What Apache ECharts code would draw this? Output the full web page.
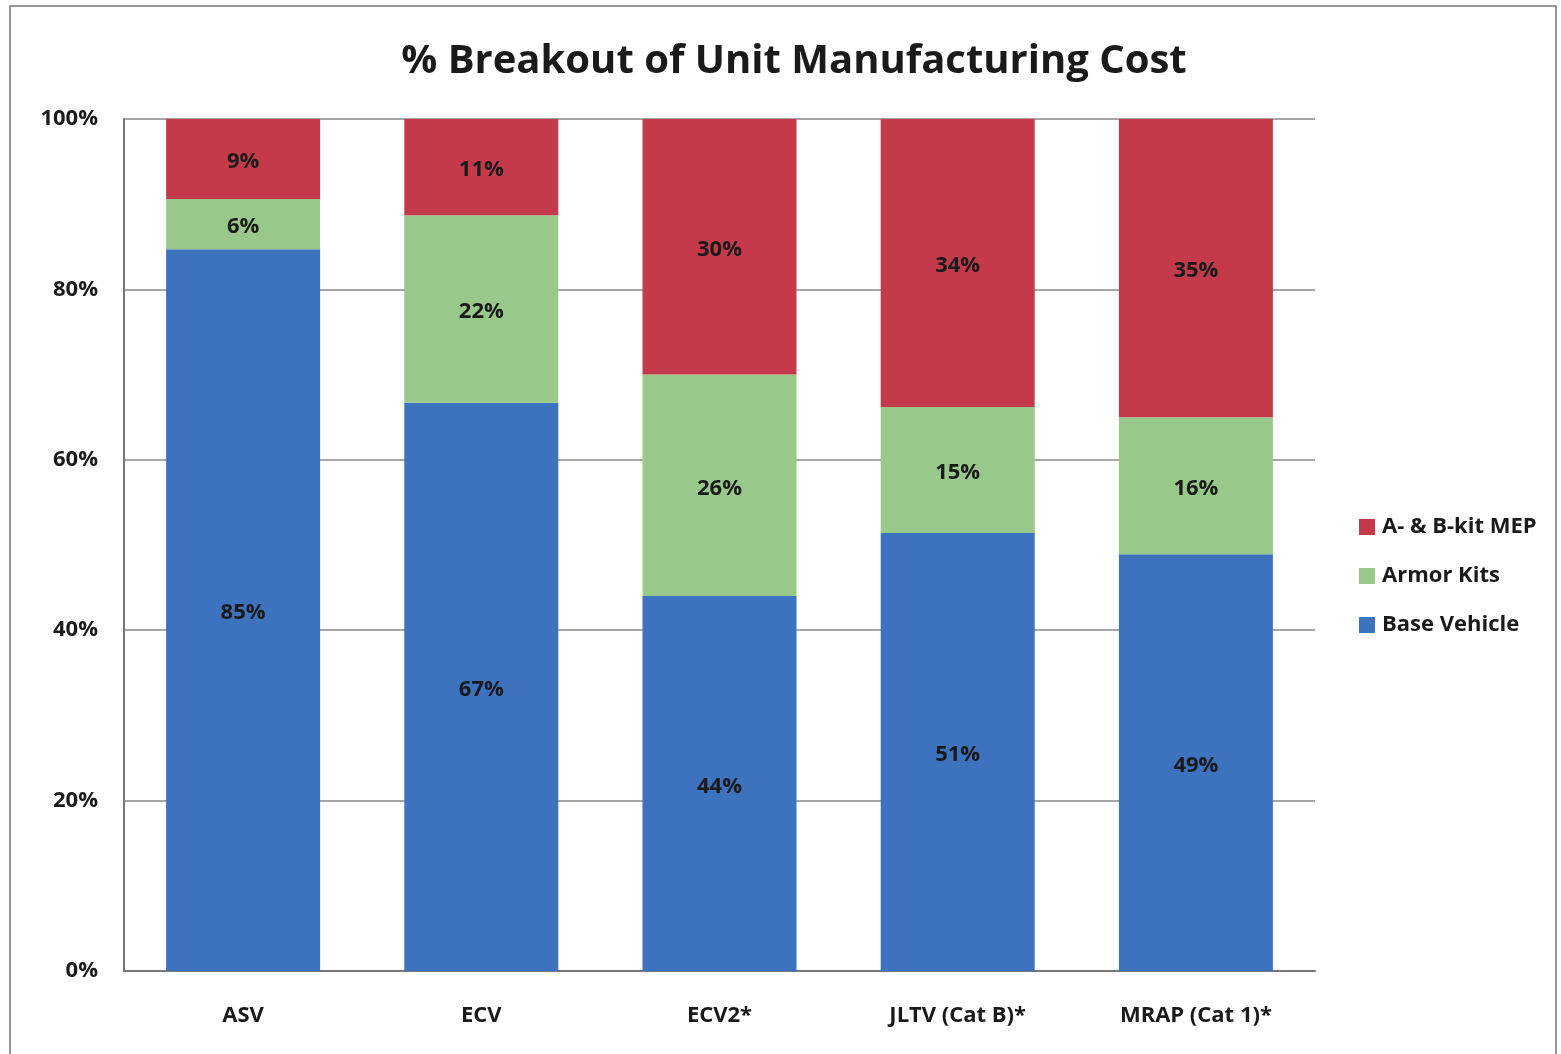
<!DOCTYPE html>
<html>
<head>
<meta charset="utf-8">
<script src="https://cdn.jsdelivr.net/npm/echarts@6/dist/echarts.min.js"></script>
<style>
html,body{margin:0;padding:0;background:#fff;}
#chart{width:1561px;height:1054px;}
</style>
</head>
<body>
<div id="chart"></div>
<script>
var categories = ['ASV', 'ECV', 'ECV2*', 'JLTV (Cat B)*', 'MRAP (Cat 1)*'];
var baseVehicle = [84.7, 66.7, 44.0, 51.4, 48.9];
var armorKits = [5.9, 22.0, 26.0, 14.8, 16.1];
var abKitMEP = [9.4, 11.3, 30.0, 33.8, 35.0];
var seriesNames = ['Base Vehicle', 'Armor Kits', 'A- & B-kit MEP'];
var titleText = '% Breakout of Unit Manufacturing Cost';

var colors = ['#3D72BF', '#99C98A', '#C53A4B'];
var font = '"Open Sans", Lato, sans-serif';

function mk(name, data, color) {
  return {
    name: name,
    type: 'bar',
    stack: 'total',
    data: data,
    barWidth: 154,
    itemStyle: { color: color },
    label: {
      show: true,
      position: 'inside',
      offset: [0, 3],
      formatter: function (p) { return Math.round(p.value) + '%'; },
      color: '#1a1a1a',
      fontFamily: font,
      fontWeight: 'bold',
      fontSize: 22
    }
  };
}

var chart = echarts.init(document.getElementById('chart'));
chart.setOption({
  animation: false,
  backgroundColor: '#fff',
  graphic: [{
    type: 'rect',
    shape: { x: 10, y: 6, width: 1546, height: 1060 },
    style: { fill: 'none', stroke: '#777', lineWidth: 1.5 },
    silent: true,
    z: -1
  }],
  title: {
    text: titleText,
    left: 789,
    textAlign: 'center',
    top: 37,
    textStyle: { fontFamily: font, fontWeight: 'bold', fontSize: 40, color: '#1a1a1a' }
  },
  legend: {
    orient: 'vertical',
    left: 1354,
    top: 511,
    itemWidth: 16,
    itemHeight: 16,
    itemGap: 27,
    icon: 'rect',
    data: ['A- & B-kit MEP', 'Armor Kits', 'Base Vehicle'],
    textStyle: { fontFamily: font, fontWeight: 'bold', fontSize: 22, color: '#1a1a1a', padding: [0, 0, 0, 2] }
  },
  grid: { left: 124, right: 246, top: 119, bottom: 83, containLabel: false },
  xAxis: {
    type: 'category',
    data: categories,
    axisLine: { show: true, lineStyle: { color: '#777', width: 2 } },
    axisTick: { show: false },
    axisLabel: { margin: 34, fontFamily: font, fontWeight: 'bold', fontSize: 22, color: '#1a1a1a' }
  },
  yAxis: {
    type: 'value',
    min: 0,
    max: 100,
    interval: 20,
    axisLine: { show: true, lineStyle: { color: '#777', width: 2 } },
    axisTick: { show: false },
    splitLine: { show: true, lineStyle: { color: '#888', width: 1.5 } },
    axisLabel: { margin: 26, formatter: '{value}%', fontFamily: font, fontWeight: 'bold', fontSize: 22, color: '#1a1a1a' }
  },
  series: [
    mk(seriesNames[0], baseVehicle, colors[0]),
    mk(seriesNames[1], armorKits, colors[1]),
    mk(seriesNames[2], abKitMEP, colors[2])
  ]
});
</script>
</body>
</html>
